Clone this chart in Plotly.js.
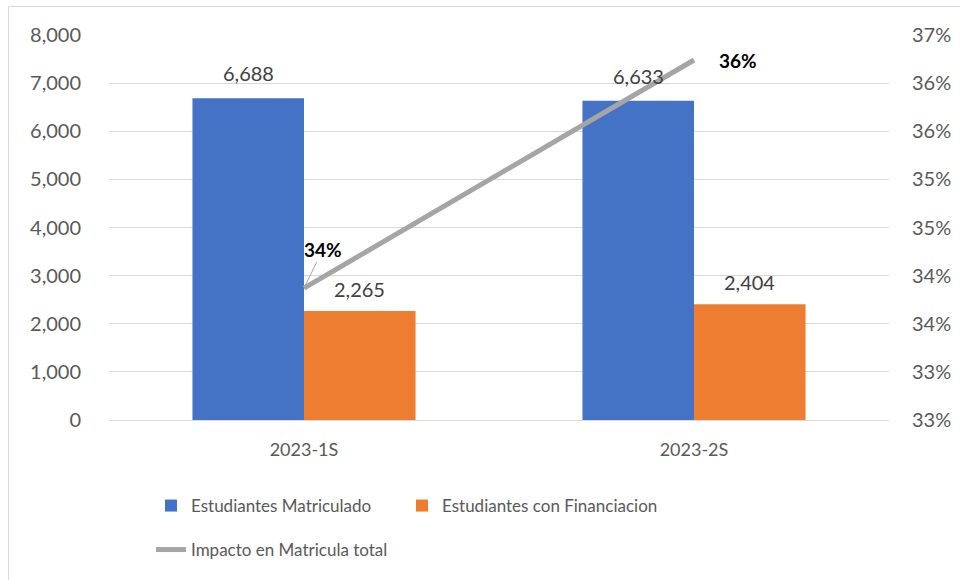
<!DOCTYPE html>
<html>
<head>
<meta charset="utf-8">
<script src="https://cdn.plot.ly/plotly-3.0.1.min.js"></script>
<style>
  html, body { margin: 0; padding: 0; background: #ffffff; }
  #chart { width: 960px; height: 580px; }
</style>
</head>
<body>
<div id="chart"></div>
<script>
// ---- data ----
var categories = ['2023-1S', '2023-2S'];
var matriculados = [6688, 6633];
var financiacion = [2265, 2404];
var impacto = [0.3387, 0.3624];
var impactoLabels = ['34%', '36%'];
var rightTickVals = [0.325, 0.33, 0.335, 0.34, 0.345, 0.35, 0.355, 0.36, 0.365];
var rightTickText = ['33%', '33%', '34%', '34%', '35%', '35%', '36%', '36%', '37%'];
var leftTickVals = [0, 1000, 2000, 3000, 4000, 5000, 6000, 7000, 8000];

var FONT = 'Lato, "Noto Sans", sans-serif';
var GRID = '#d9d9d9';
var TXT = '#595959';

var BARGAP = 0.428;
var half = (1 - BARGAP) / 4; // center offset of each bar inside a group

var traces = [
  {
    type: 'bar', name: 'Estudiantes Matriculado',
    x: categories, y: matriculados,
    marker: { color: '#4472c4' },
    hoverinfo: 'x+y', legend: 'legend'
  },
  {
    type: 'bar', name: 'Estudiantes con Financiacion',
    x: categories, y: financiacion,
    marker: { color: '#ed7d31' },
    hoverinfo: 'x+y', legend: 'legend', legendwidth: 260
  },
  {
    type: 'scatter', mode: 'lines', name: 'Impacto en Matricula total',
    x: categories, y: impacto, yaxis: 'y2',
    line: { color: '#a5a5a5', width: 5 },
    legend: 'legend2'
  }
];

var annotations = [];
function fmt(v) { return v.toLocaleString('en-US'); }
categories.forEach(function (c, i) {
  annotations.push({
    x: i - half, y: matriculados[i], xref: 'x', yref: 'y',
    text: fmt(matriculados[i]), showarrow: false, yanchor: 'middle', yshift: 25,
    font: { family: FONT, size: 20, color: '#404040' }
  });
  annotations.push({
    x: i + half, y: financiacion[i], xref: 'x', yref: 'y',
    text: fmt(financiacion[i]), showarrow: false, yanchor: 'middle', yshift: 22,
    font: { family: FONT, size: 20, color: '#404040' }
  });
});
annotations.push({
  x: 0, y: impacto[0], xref: 'x', yref: 'y2',
  text: '<b>' + impactoLabels[0] + '</b>', showarrow: true,
  ax: 19, ay: -39, arrowhead: 0, arrowwidth: 1, arrowcolor: '#a6a6a6', standoff: 2,
  font: { family: FONT, size: 19, color: '#000000' }
});
annotations.push({
  x: 1, y: impacto[1], xref: 'x', yref: 'y2',
  text: '<b>' + impactoLabels[1] + '</b>', showarrow: false,
  xshift: 44, yshift: 0,
  font: { family: FONT, size: 19, color: '#000000' }
});

var L = 109, R = 71, T = 35, B = 160;
var W = 960 - L - R, H = 580 - T - B;
function px2x(p) { return (p - L) / W; }
function px2y(p) { return (580 - B - p) / H; }

var layout = {
  width: 960, height: 580,
  margin: { l: L, r: R, t: T, b: B, pad: 0 },
  paper_bgcolor: '#ffffff', plot_bgcolor: '#ffffff',
  barmode: 'group', bargap: BARGAP, bargroupgap: 0,
  font: { family: FONT, color: TXT },
  showlegend: true,
  xaxis: {
    type: 'category', showgrid: false, zeroline: false, showline: false,
    ticks: '', ticklabelstandoff: 17,
    tickfont: { family: FONT, size: 18, color: TXT }
  },
  yaxis: {
    range: [0, 8000], tickvals: leftTickVals, tickformat: ',d',
    showgrid: true, gridcolor: GRID, gridwidth: 1,
    zeroline: true, zerolinecolor: GRID, zerolinewidth: 1,
    showline: false, ticks: '', ticklabelstandoff: 27,
    tickfont: { family: FONT, size: 20, color: TXT }
  },
  yaxis2: {
    overlaying: 'y', side: 'right', range: [0.325, 0.365],
    tickvals: rightTickVals, ticktext: rightTickText,
    showgrid: false, zeroline: false, showline: false,
    ticks: '', ticklabelstandoff: 22,
    tickfont: { family: FONT, size: 20, color: TXT }
  },
  legend: {
    orientation: 'h', x: px2x(151), xanchor: 'left', y: px2y(506), yanchor: 'middle',
    entrywidth: 206, bgcolor: 'rgba(0,0,0,0)', borderwidth: 0,
    font: { family: FONT, size: 17, color: TXT }, traceorder: 'normal'
  },
  legend2: {
    orientation: 'h', x: px2x(151), xanchor: 'left', y: px2y(550), yanchor: 'middle',
    bgcolor: 'rgba(0,0,0,0)', borderwidth: 0,
    font: { family: FONT, size: 17, color: TXT }
  },
  annotations: annotations,
  shapes: [
    { type: 'line', xref: 'paper', yref: 'paper', x0: px2x(8.5), x1: px2x(8.5), y0: px2y(6.5), y1: px2y(580),
      line: { color: GRID, width: 1 }, layer: 'below' },
    { type: 'line', xref: 'paper', yref: 'paper', x0: px2x(8.5), x1: px2x(960), y0: px2y(6.5), y1: px2y(6.5),
      line: { color: GRID, width: 1 }, layer: 'below' }
  ]
};

Plotly.newPlot('chart', traces, layout, { displayModeBar: false, responsive: false });
</script>
</body>
</html>
